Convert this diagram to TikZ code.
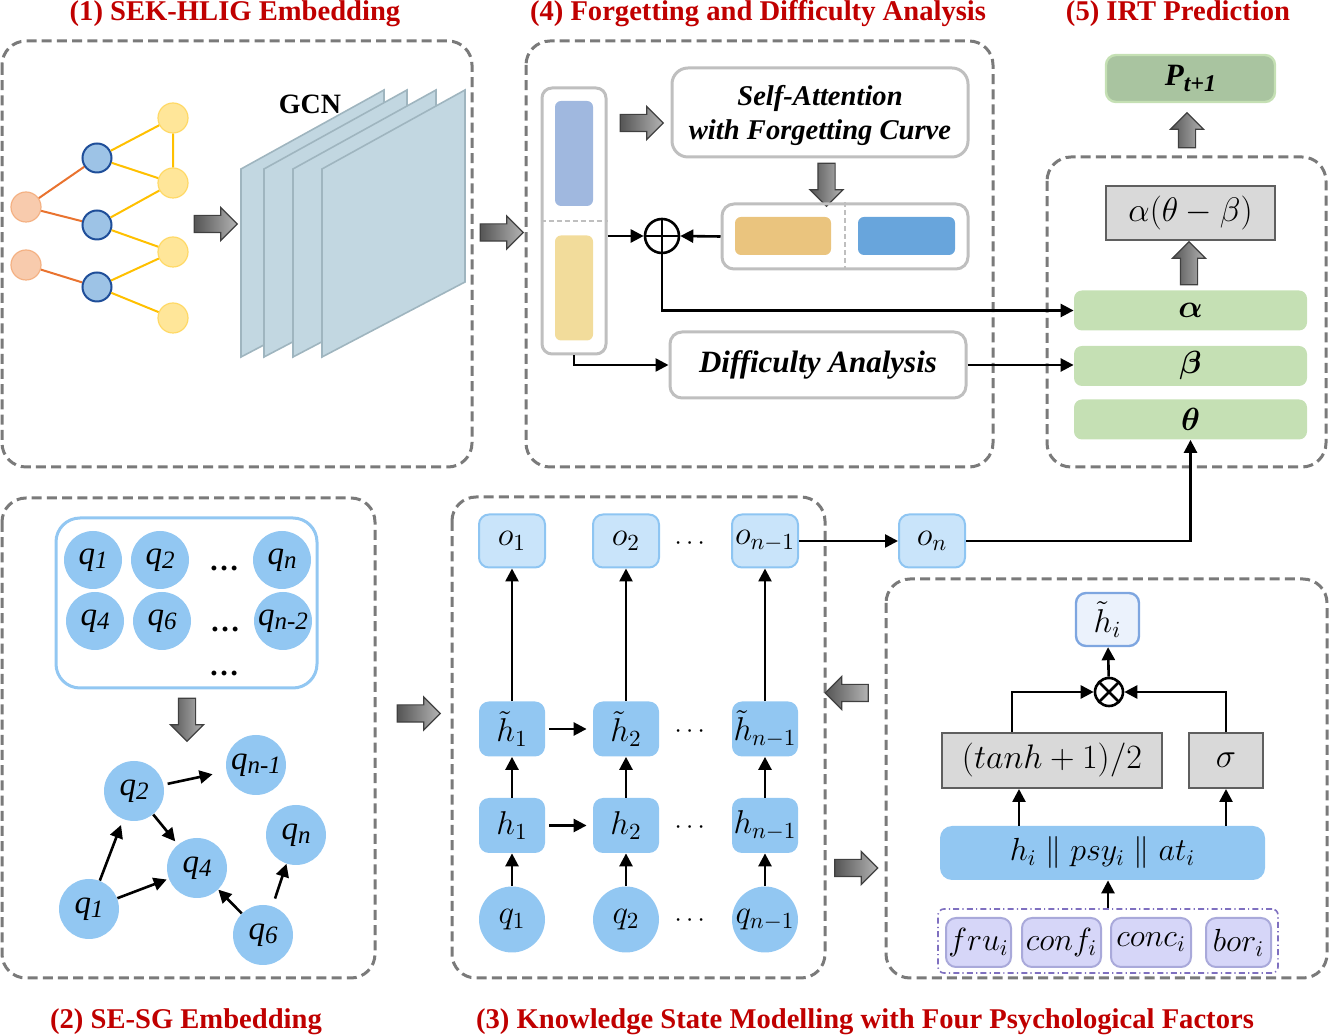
\RequirePackage{fix-cm}
\documentclass[tikz,border=0pt]{standalone}
\usepackage[no-math]{fontspec}
\setmainfont{Liberation Serif}
\usepackage{amsmath,bm}
\usetikzlibrary{arrows.meta,shapes.arrows}

\definecolor{titred}{HTML}{C00000}
\definecolor{dashgray}{HTML}{7A7A7A}
\definecolor{lightgray}{HTML}{BFBFBF}
\definecolor{orfill}{HTML}{F8CBAD}
\definecolor{ordraw}{HTML}{F4B183}
\definecolor{oredge}{HTML}{E9732F}
\definecolor{blfill}{HTML}{9DC3E6}
\definecolor{bldraw}{HTML}{1F4E99}
\definecolor{ylfill}{HTML}{FFE699}
\definecolor{yldraw}{HTML}{FFD966}
\definecolor{yledge}{HTML}{FFC000}
\definecolor{planefill}{HTML}{C2D7E1}
\definecolor{planedraw}{HTML}{9FB5BF}
\definecolor{embblue}{HTML}{A0B8DF}
\definecolor{embyel}{HTML}{F2DC9B}
\definecolor{fgtor}{HTML}{EAC47E}
\definecolor{fgtbl}{HTML}{68A5DC}
\definecolor{gdark}{HTML}{A9C4A0}
\definecolor{glight}{HTML}{C5E0B4}
\definecolor{boxgray}{HTML}{D9D9D9}
\definecolor{boxedge}{HTML}{5F5F5F}
\definecolor{qblue}{HTML}{92C7F2}
\definecolor{olight}{HTML}{C9E4FA}
\definecolor{oedge}{HTML}{8EC5F2}
\definecolor{hfill}{HTML}{EBF2FC}
\definecolor{hedge}{HTML}{7EA6E0}
\definecolor{psyline}{HTML}{7F70C0}
\definecolor{psyfill}{HTML}{D6D6F8}
\definecolor{psyedge}{HTML}{A9A9DA}
\definecolor{arrdark}{HTML}{555555}
\definecolor{arrlight}{HTML}{B4B4B4}

\newcommand{\ql}[1]{q\raisebox{-0.3ex}{\fontsize{12.5}{12}\selectfont #1}}

\tikzset{
  panel/.style={draw=dashgray,line width=1.5pt,dash pattern=on 5pt off 2.6pt,rounded corners=12pt},
  ttl/.style={text=titred,font=\fontsize{14.3}{16}\selectfont\bfseries,anchor=base},
  blk/.style={single arrow,draw=black!75,line width=0.6pt,inner xsep=0pt,inner ysep=4pt,minimum height=21.5pt,
    single arrow head extend=4pt,single arrow head indent=0pt,left color=arrdark,right color=arrlight},
  ln/.style={line width=1.3pt},
  sep/.style={draw=lightgray,line width=0.9pt,dash pattern=on 2.5pt off 1.5pt},
  gnode/.style={circle,minimum size=15pt,inner sep=0pt},
  ornode/.style={gnode,fill=orfill,draw=ordraw,line width=0.6pt},
  blnode/.style={gnode,minimum size=14.5pt,fill=blfill,draw=bldraw,line width=1pt},
  ylnode/.style={gnode,fill=ylfill,draw=yldraw,line width=0.6pt},
  plane/.style={fill=planefill,draw=planedraw,line width=0.8pt},
  rbox/.style={draw=lightgray,line width=1.5pt,rounded corners=6pt,inner sep=0pt},
  bar/.style={rounded corners=3pt,minimum width=19pt,minimum height=52.5pt,inner sep=0pt},
  bitalic/.style={font=\fontsize{14.3}{17}\selectfont\bfseries\itshape},
  opnode/.style={circle,draw,line width=1.3pt,inner sep=0pt},
  gbox/.style={fill=boxgray,draw=boxedge,line width=1pt,minimum height=27.5pt,inner sep=0pt,font=\fontsize{17}{17}\selectfont},
  gbar/.style={fill=glight,rounded corners=4pt,minimum width=116.5pt,minimum height=20pt,inner sep=0pt,font=\fontsize{16}{16}\selectfont},
  qc/.style={circle,fill=qblue,minimum size=29pt,inner sep=0pt,font=\fontsize{16.5}{16}\selectfont\itshape},
  onode/.style={fill=olight,draw=oedge,line width=1pt,rounded corners=5pt,minimum width=33pt,minimum height=26.5pt,inner sep=0pt,font=\fontsize{16.5}{16}\selectfont},
  hnode/.style={fill=qblue,rounded corners=5pt,minimum width=33pt,minimum height=27.5pt,inner sep=0pt,font=\fontsize{16.5}{16}\selectfont},
  qnode/.style={circle,fill=qblue,minimum size=33pt,inner sep=0pt,font=\fontsize{16.5}{16}\selectfont},
  dots/.style={font=\fontsize{13}{13}\selectfont},
  pbox/.style={fill=psyfill,draw=psyedge,line width=1pt,rounded corners=5pt,minimum height=24.5pt,inner sep=0pt,font=\fontsize{16}{16}\selectfont},
}

\begin{document}
\begin{tikzpicture}[x=0.5pt,y=-0.5pt,>={Triangle[length=6.5pt,width=6.5pt]}]
\useasboundingbox (0,0) rectangle (1329,1036);

\node[ttl] (t1) at (235,21) {(1) SEK-HLIG Embedding};
\node[ttl] (t4) at (758,21) {(4) Forgetting and Difficulty Analysis};
\node[ttl] (t5) at (1178,21) {(5) IRT Prediction};
\node[ttl] (t2) at (186,1029) {(2) SE-SG Embedding};
\node[ttl] (t3) at (865,1029) {(3) Knowledge State Modelling with Four Psychological Factors};

\draw[panel] (2,41) rectangle (472,467);
\draw[panel] (526,41) rectangle (993,467);
\draw[panel] (1047,157) rectangle (1326,467);
\draw[panel] (2,498) rectangle (375,978);
\draw[panel] (452,497) rectangle (825,978);
\draw[panel] (886,579) rectangle (1327,978);

% (1) graph and GCN
\node[ornode] (a1) at (26,207) {}; \node[ornode] (a2) at (26,265) {};
\node[blnode] (b1) at (97,158) {}; \node[blnode] (b2) at (97,225) {}; \node[blnode] (b3) at (97,287) {};
\node[ylnode] (c1) at (173,118) {}; \node[ylnode] (c2) at (173,183) {};
\node[ylnode] (c3) at (173,252) {}; \node[ylnode] (c4) at (173,318) {};
\draw[oredge,line width=1pt] (a1) -- (b1) (a1) -- (b2) (a2) -- (b3);
\draw[yledge,line width=1pt] (b1) -- (c1) (b1) -- (c2) (c1) -- (c2) (b2) -- (c2) (b2) -- (c3) (b3) -- (c3) (b3) -- (c4);
\node[blk] (ar1) at (211.5,224) {};
\foreach \x in {241,264,293,322}
  \filldraw[plane] (\x,169) -- (\x+143,90) -- (\x+143,282) -- (\x,357) -- cycle;
\node[font=\fontsize{14}{14}\selectfont\bfseries] (gcn) at (310,104) {GCN};
\node[blk] (ar2) at (497.5,232.5) {};

% (4) forgetting and difficulty
\node[rbox,minimum width=32pt,minimum height=133pt,rounded corners=5pt] (emb) at (574,221) {};
\draw[sep] (emb.west) -- (emb.east);
\node[bar,fill=embblue] (eq) at (574,153.5) {};
\node[bar,fill=embyel] (ea) at (574,288) {};
\node[blk] (ar3) at (637.5,123) {};
\node[rbox,rounded corners=8pt,minimum width=148pt,minimum height=44.5pt,bitalic,align=center,text depth=0pt] (attn) at (820,112.5) {Self-Attention\\with Forgetting Curve};
\node[blk,rotate=-90] (ar4) at (826.5,180.5) {};
\node[rbox,minimum width=123pt,minimum height=32.5pt] (fgt) at (845,236.5) {};
\node[bar,fill=fgtor,minimum width=48pt,minimum height=19pt] (fo) at (783,236) {};
\node[bar,fill=fgtbl,minimum width=48.5pt,minimum height=19pt] (fb) at (906.5,236) {};
\draw[sep] (fgt.north) -- (fgt.south);
\node[opnode,minimum size=17pt,path picture={\draw[line width=1.3pt] (path picture bounding box.north) -- (path picture bounding box.south) (path picture bounding box.west) -- (path picture bounding box.east);}] (add) at (662,236) {};
\draw[->,ln] (add -| emb.east) -- (add.west);
\draw[->,ln] (fgt.west) -- (add.east);
\node[rbox,minimum width=148pt,minimum height=33pt,font=\fontsize{15.5}{17}\selectfont\bfseries\itshape] (diff) at (818,365) {Difficulty Analysis};
\draw[->,ln] (emb.south) |- (diff.west);

% (5) IRT
\node[fill=gdark,draw=glight,line width=1.2pt,rounded corners=5pt,minimum width=84.5pt,minimum height=23.5pt,inner sep=0pt,font=\fontsize{15.5}{15}\selectfont\bfseries\itshape] (pred) at (1190.5,78.5) {P\raisebox{-0.45ex}{\fontsize{12}{12}\selectfont t+1}};
\node[blk,rotate=90,minimum height=17.5pt] (ar5) at (1187,134.5) {};
\node[gbox,minimum width=84.5pt,minimum height=27pt] (irt) at (1190.5,213.5) {$\alpha(\theta-\beta)$};
\node[blk,rotate=90] (ar6) at (1189,267.5) {};
\node[gbar] (alpha) at (1190.5,310.5) {$\bm{\alpha}$};
\node[gbar] (beta) at (1190.5,366) {$\bm{\beta}$};
\node[gbar] (theta) at (1190.5,419.5) {$\bm{\theta}$};
\draw[->,ln] (add.south) |- (alpha.west);
\draw[->,ln] (diff.east) -- (diff.east -| beta.west);

% (2) SE-SG
\node[draw=qblue,line width=1.5pt,rounded corners=12pt,minimum width=130.5pt,minimum height=85pt] (qset) at (186.5,603) {};
\node[qc] (s1) at (93,560) {\ql{1}}; \node[qc] (s2) at (160,560) {\ql{2}}; \node[qc] (sn) at (282,560) {\ql{n}};
\node[qc] (s4) at (95,621) {\ql{4}}; \node[qc] (s6) at (162,621) {\ql{6}}; \node[qc] (sn2) at (283,621) {\ql{n-2}};
\node[font=\fontsize{15}{15}\selectfont\bfseries] (sd1) at (224,568) {\dots};
\node[font=\fontsize{15}{15}\selectfont\bfseries] (sd2) at (225,629) {\dots};
\node[font=\fontsize{15}{15}\selectfont\bfseries] (sd3) at (224,673) {\dots};
\node[blk,rotate=-90] (ar7) at (187,715.5) {};
\node[qc,minimum size=30pt] (vn1) at (256,765) {\ql{n-1}};
\node[qc,minimum size=30pt] (v2) at (134,791) {\ql{2}};
\node[qc,minimum size=30pt] (vn) at (296,835) {\ql{n}};
\node[qc,minimum size=30pt] (v4) at (197,868) {\ql{4}};
\node[qc,minimum size=30pt] (v1) at (89,909) {\ql{1}};
\node[qc,minimum size=30pt] (v6) at (263,935) {\ql{6}};
\draw[->,ln,shorten <=2pt,shorten >=7pt] (v2) -- (vn1);
\draw[->,ln,shorten >=2pt] (v2) -- (v4);
\draw[->,ln,shorten >=3pt] (v1) -- (v2);
\draw[->,ln,shorten >=1pt] (v1) -- (v4);
\draw[->,ln] (v6) -- (v4);
\draw[->,ln,shorten <=4pt] (v6) -- (vn);
\node[blk] (ar8) at (414.5,713.5) {};

% (3) knowledge state
\foreach \i/\x/\s in {1/512/1,2/626/2,3/765/{n-1}} {
  \node[onode] (o\i) at (\x,541) {$o_{\s}$};
  \node[hnode] (t\i) at (\x,729) {$\tilde{h}_{\s}$};
  \node[hnode] (h\i) at (\x,825.5) {$h_{\s}$};
  \node[qnode] (q\i) at (\x,919.5) {$q_{\s}$};
  \draw[->,ln] (q\i) -- (h\i);
  \draw[->,ln] (h\i) -- (t\i);
  \draw[->,ln] (t\i) -- (o\i);
}
\foreach \y in {544,732,828,921}
  \node[dots] (dot\y) at (692,\y) {$\cdots$};
\draw[->,ln,shorten <=2pt,shorten >=3pt] (t1) -- (t2);
\draw[->,ln,shorten <=2pt,shorten >=3pt] (h1) -- (h2);
\node[onode] (on) at (932,541) {$o_n$};
\draw[->,ln] (o3) -- (on);
\draw[->,ln] (on.east) -| (theta.south);
\node[blk,rotate=180] (ar9) at (851,693) {};
\node[blk] (ar10) at (852,868) {};

\node[fill=hfill,draw=hedge,line width=1.2pt,rounded corners=5pt,minimum width=31.5pt,minimum height=26.5pt,inner sep=0pt,font=\fontsize{16.5}{16}\selectfont] (hti) at (1107.5,619.5) {$\tilde{h}_i$};
\node[opnode,minimum size=14pt,path picture={\draw[line width=1.3pt] (path picture bounding box.north west) -- (path picture bounding box.south east) (path picture bounding box.north east) -- (path picture bounding box.south west);}] (mul) at (1109,692) {};
\node[gbox,minimum width=110pt] (gt) at (1052,760.5) {$(tanh+1)/2$};
\node[gbox,minimum width=37pt] (gs) at (1226,760.5) {$\sigma$};
\node[fill=qblue,rounded corners=6pt,minimum width=162.5pt,minimum height=27pt,inner sep=0pt,font=\fontsize{16}{16}\selectfont] (cat) at (1102.5,853) {$h_i\parallel psy_i\parallel at_i$};
\node[draw=psyline,line width=0.8pt,dash pattern=on 3pt off 1.6pt on 0.6pt off 1.6pt,rounded corners=3pt,minimum width=170pt,minimum height=32pt] (psy) at (1108,941) {};
\node[pbox,minimum width=32.5pt] (fru) at (978.5,942.5) {$fru_i$};
\node[pbox,minimum width=39.5pt] (conf) at (1061.5,942.5) {$conf_i$};
\node[pbox,minimum width=40pt] (conc) at (1151,942.5) {$conc_i$};
\node[pbox,minimum width=32.5pt] (bor) at (1238.5,942.5) {$bor_i$};
\coordinate (gtout) at ([xshift=-20pt]gt.north);
\coordinate (gtin) at ([xshift=-16.5pt]gt.south);
\draw[->,ln] (mul) -- (hti);
\draw[->,ln] (gtout) |- (mul);
\draw[->,ln] (gs.north) |- (mul);
\draw[->,ln] (cat.north -| gtin) -- (gtin);
\draw[->,ln] (cat.north -| gs.south) -- (gs.south);
\draw[->,ln] (psy.north) -- (psy.north |- cat.south);
\end{tikzpicture}
\end{document}
